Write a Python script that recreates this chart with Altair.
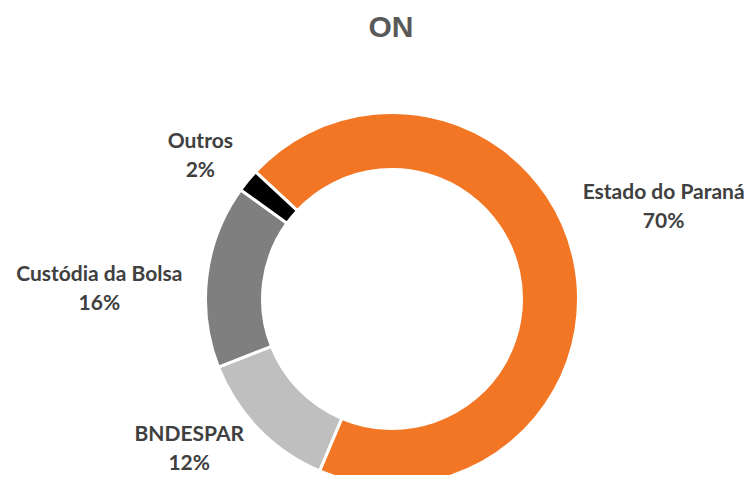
import math
import altair as alt
import pandas as pd

# ---- data ----
categories = ["Estado do Paraná", "BNDESPAR", "Custódia da Bolsa", "Outros"]
shares = [69.4, 12.7, 15.9, 2.0]          # slice sizes (share of ON shares, %)
pct_labels = ["70%", "12%", "16%", "2%"]  # percentages printed on the chart
title_text = "ON"

# ---- styles ----
colors = ["#F27623", "#BFBFBF", "#7F7F7F", "#000000"]
start = math.radians(313)
cx, cy = 384, 241
line_h = 29
# label radius and nudges (dx, dy) per category
label_style = {
    "Estado do Paraná": (288, -10, -31),
    "BNDESPAR": (254, -21, -27),
    "Custódia da Bolsa": (293, -2, 27),
    "Outros": (239, -7, 9),
}

df = pd.DataFrame({
    "cat": categories,
    "share": shares,
    "pct": pct_labels,
    "idx": list(range(len(categories))),
})
df["label"] = df["cat"] + "\n" + df["pct"]

theta_scale = alt.Scale(domain=[0, 100], range=[start, start + 2 * math.pi])
color_scale = alt.Scale(domain=categories, range=colors)

base = alt.Chart(df).transform_window(
    cum="sum(share)", sort=[alt.SortField("idx")]
).transform_calculate(
    s0="datum.cum - datum.share", mid="datum.cum - datum.share / 2"
)

arcs = base.mark_arc(
    outerRadius=186.5, innerRadius=129.5, stroke="white", strokeWidth=3
).encode(
    theta=alt.Theta("s0:Q", scale=theta_scale),
    theta2="cum:Q",
    color=alt.Color("cat:N", scale=color_scale, legend=None),
    x=alt.value(cx),
    y=alt.value(cy),
)

layers = [arcs]
for cat in categories:
    r, dx, dy = label_style[cat]
    layers.append(
        base.transform_filter(alt.datum.cat == cat).mark_text(
            radius=r, dx=dx, dy=dy - line_h / 2, font="Lato", fontWeight="bold",
            fontSize=21, lineHeight=line_h, lineBreak="\n", color="#404040",
            align="center", baseline="middle",
        ).encode(
            theta=alt.Theta("mid:Q", scale=theta_scale),
            text="label:N",
            x=alt.value(cx),
            y=alt.value(cy),
        )
    )

chart = alt.layer(*layers).properties(
    width=740,
    height=417,
    padding={"left": 0, "top": 50, "right": 0, "bottom": 0},
    autosize=alt.AutoSizeParams(type="none"),
    title=alt.TitleParams(
        title_text, font="Liberation Sans", fontSize=30, fontWeight="bold",
        color="#595959", anchor="middle", offset=15, dx=13,
    ),
).configure_view(stroke=None)

chart.save("out.html", embed_options={"renderer": "svg", "actions": False})
